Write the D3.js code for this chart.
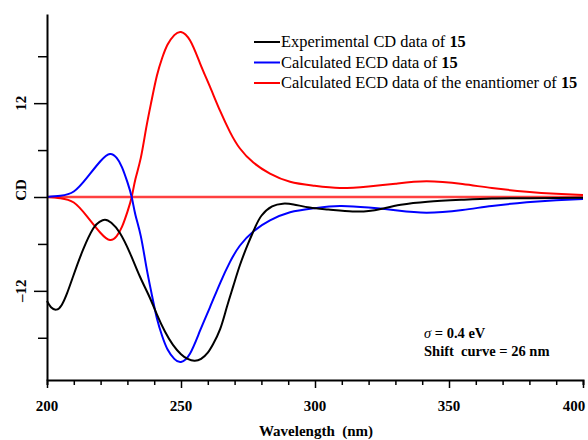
<!DOCTYPE html>
<html>
<head>
<meta charset="utf-8">
<script src="https://cdn.jsdelivr.net/npm/d3@7"></script>
<style>
  body { margin: 0; background: #fff; }
  text { font-family: "Liberation Serif", "Times New Roman", serif; fill: #000; }
</style>
</head>
<body>
<svg width="588" height="440"></svg>
<script>
// wavelength (nm) / CD pairs
var expWl = [200, 201.5, 203.5, 205.5, 207.5, 209.8, 213.5, 217.3, 219.5, 221.6, 224, 227.2, 231, 234.7, 238, 241, 244, 247, 250, 252.5, 255, 257.5, 260, 262, 264.6, 267, 269.5, 272, 275, 277.5, 280, 284, 288, 292, 298, 305, 314, 320, 325, 332, 342, 355, 366, 380, 400];
var expCD = [-13.3, -14.1, -14.4, -13.8, -12.3, -10.1, -6.7, -4.0, -3.2, -2.9, -3.3, -4.6, -7.2, -10.2, -12.6, -15.0, -17.2, -18.9, -20.1, -20.7, -20.95, -20.7, -19.9, -18.8, -16.9, -14.2, -11.4, -8.7, -6.0, -4.0, -2.4, -1.2, -0.85, -0.95, -1.35, -1.6, -1.85, -1.8, -1.5, -1.0, -0.6, -0.35, -0.2, -0.15, -0.1];

var calcWl = [200, 205, 210, 215, 220, 223.5, 226, 228, 230, 231.6, 233, 235, 237, 239, 241, 243, 245, 247.5, 250, 253.4, 257.1, 260.8, 264.6, 268.3, 272, 277, 283.2, 290.7, 299.4, 309.3, 320, 330, 341.7, 355, 366, 379, 390, 400];
var calcCD = [0, 0.15, 0.7, 2.5, 4.6, 5.5, 5.0, 3.8, 1.9, 0, -2.3, -5.0, -8.8, -12.3, -15.5, -17.8, -19.5, -20.7, -21.1, -20.0, -17.1, -14.1, -11.0, -8.3, -6.2, -4.4, -3.0, -1.95, -1.45, -1.15, -1.35, -1.7, -2.0, -1.65, -1.15, -0.67, -0.4, -0.25];
var enantCD = [0, -0.15, -0.7, -2.5, -4.6, -5.5, -5.0, -3.8, -1.9, 0, 2.3, 5.0, 8.8, 12.3, 15.5, 17.8, 19.5, 20.7, 21.1, 20.0, 17.1, 14.1, 11.0, 8.3, 6.2, 4.4, 3.0, 1.95, 1.45, 1.15, 1.35, 1.7, 2.0, 1.65, 1.15, 0.67, 0.4, 0.25];

var zeroWl = [200, 400];
var zeroCD = [0, 0];

var xTicks = [200, 250, 300, 350, 400];
var yTicks = [-12, 12];

var legendLabels = ["Experimental CD data of ", "Calculated ECD data of ", "Calculated ECD data of the enantiomer of "];
var legendColors = ["#000000", "#0000ff", "#ff0000"];

var svg = d3.select("svg");

var x = d3.scaleLinear().domain([200, 400]).range([47, 583]);
var y = d3.scaleLinear().domain([-23.4, 23.4]).range([380, 14]);

function pairs(wl, cd) {
    return wl.map(function (w, i) { return [w, cd[i]]; });
}

var line = d3.line()
    .x(function (d) { return x(d[0]); })
    .y(function (d) { return y(d[1]); })
    .curve(d3.curveNatural);

// zero line in red
svg.append("path")
    .datum(pairs(zeroWl, zeroCD))
    .attr("d", line)
    .attr("fill", "none")
    .attr("stroke", "#ff4040")
    .attr("stroke-width", 2.5);

var series = [
    { data: pairs(calcWl, enantCD), color: "#ff0000" },
    { data: pairs(calcWl, calcCD), color: "#0000ff" },
    { data: pairs(expWl, expCD), color: "#000000" }
];

svg.selectAll(".curve")
    .data(series)
    .enter().append("path")
    .attr("class", "curve")
    .attr("d", function (d) { return line(d.data); })
    .attr("fill", "none")
    .attr("stroke", function (d) { return d.color; })
    .attr("stroke-width", 2);

// x axis: major every 50, minor every 10
var xAxis = svg.append("g").attr("transform", "translate(0," + y(-23.4) + ")");
xAxis.call(d3.axisBottom(x).tickValues(d3.range(200, 401, 10)).tickSize(5).tickFormat(""));
xAxis.selectAll(".tick").filter(function (d) { return d % 50 === 0; })
    .select("line").attr("y2", 8);
xAxis.select(".domain").attr("stroke-width", 2);
xAxis.selectAll(".tick line").attr("stroke-width", 1.5);

svg.selectAll(".xlab")
    .data(xTicks)
    .enter().append("text")
    .attr("class", "xlab")
    .attr("x", function (d) { return Math.min(x(d), 574); })
    .attr("y", 411)
    .attr("text-anchor", "middle")
    .style("font-size", "15px")
    .style("font-weight", "bold")
    .text(function (d) { return d; });

// y axis: major every 12, minor every 6
var yAxis = svg.append("g").attr("transform", "translate(" + x(200) + ",0)");
yAxis.call(d3.axisLeft(y).tickValues([-18, -12, -6, 0, 6, 12, 18]).tickSize(9).tickFormat("").tickSizeOuter(0));
yAxis.selectAll(".tick").filter(function (d) { return d % 12 === 0; })
    .select("line").attr("x2", -13);
yAxis.select(".domain").attr("stroke-width", 2);
yAxis.selectAll(".tick line").attr("stroke-width", 1.5);

svg.selectAll(".ylab")
    .data(yTicks)
    .enter().append("text")
    .attr("class", "ylab")
    .attr("transform", function (d) { return "translate(26," + y(d) + ") rotate(-90)"; })
    .attr("text-anchor", "middle")
    .style("font-size", "15px")
    .style("font-weight", "bold")
    .text(function (d) { return d < 0 ? "\u2013" + Math.abs(d) : d; });

svg.append("text")
    .attr("transform", "translate(26,190) rotate(-90)")
    .attr("text-anchor", "middle")
    .style("font-size", "15px")
    .style("font-weight", "bold")
    .text("CD");

svg.append("text")
    .attr("x", 316)
    .attr("y", 436)
    .attr("text-anchor", "middle")
    .style("font-size", "15px")
    .style("font-weight", "bold")
    .style("white-space", "pre")
    .text("Wavelength  (nm)");

// legend
var legend = svg.selectAll(".legend")
    .data(legendLabels)
    .enter().append("g")
    .attr("class", "legend")
    .attr("transform", function (d, i) { return "translate(254," + (42 + i * 20.5) + ")"; });

legend.append("line")
    .attr("x1", 0).attr("x2", 26)
    .attr("stroke", function (d, i) { return legendColors[i]; })
    .attr("stroke-width", 2);

var lt = legend.append("text")
    .attr("x", 27)
    .attr("y", 5)
    .style("font-size", "16.4px");
lt.append("tspan").text(function (d) { return d; });
lt.append("tspan").style("font-weight", "bold").text("15");

// annotation
var note = svg.append("text").attr("x", 424).attr("y", 338)
    .style("font-size", "14.5px").style("font-weight", "bold");
note.append("tspan").style("font-style", "italic").style("font-weight", "normal").text("\u03c3");
note.append("tspan").text(" = 0.4 eV");

svg.append("text").attr("x", 424).attr("y", 356)
    .style("font-size", "14.5px").style("font-weight", "bold")
    .style("white-space", "pre")
    .text("Shift  curve = 26 nm");
</script>
</body>
</html>
